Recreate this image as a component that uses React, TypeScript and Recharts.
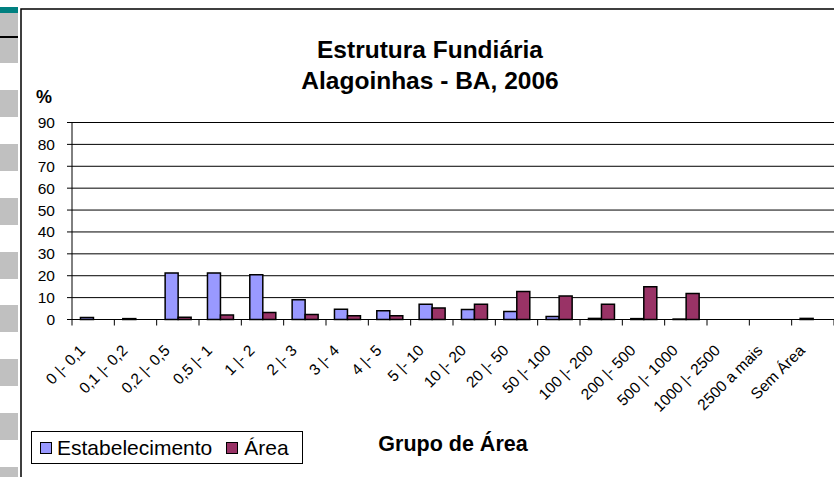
import React from 'react';
import { BarChart, Bar, XAxis, YAxis, CartesianGrid, Legend } from 'recharts';

const FONT = '"Liberation Sans", Arial, Helvetica, sans-serif';

const categories = [
  '0 |- 0,1', '0,1 |- 0,2', '0,2 |- 0,5', '0,5 |- 1', '1 |- 2', '2 |- 3', '3 |- 4', '4 |- 5',
  '5 |- 10', '10 |- 20', '20 |- 50', '50 |- 100', '100 |- 200', '200 |- 500', '500 |- 1000',
  '1000 |- 2500', '2500 a mais', 'Sem Área',
];
const estabelecimento = [0.9, 0.4, 21.3, 21.3, 20.5, 9.0, 4.7, 4.0, 7.0, 4.6, 3.7, 1.4, 0.5, 0.4, 0.2, 0, 0, 0.5];
const area = [0, 0, 1.0, 2.0, 3.2, 2.3, 1.7, 1.7, 5.3, 7.0, 12.8, 10.7, 7.0, 15.0, 11.9, 0, 0, 0];
const yTicks = [0, 10, 20, 30, 40, 50, 60, 70, 80, 90];

const titleLines = ['Estrutura Fundiária', 'Alagoinhas - BA, 2006'];
const yAxisTitle = '%';
const xAxisTitle = 'Grupo de Área';
const seriesNames = ['Estabelecimento', 'Área'];
const seriesColors = ['#9999FF', '#993366'];

const data = categories.map((c, i) => ({ cat: c, estab: estabelecimento[i], area: area[i] }));

const stripBlocks = [90, 143.5, 197.5, 251.5, 305, 358.5, 413, 466.5];

const XTick = (props: any) => {
  const { x, y, payload, index, width } = props;
  const half = payload && payload.offset != null ? payload.offset : width / categories.length / 2;
  const bx = x - half;
  const ax = x - 7;
  const ay = y + 32;
  return (
    <g>
      <line x1={bx} y1={y} x2={bx} y2={y + 6} stroke="#000" strokeWidth={1} />
      {index === categories.length - 1 && (
        <line x1={x + half} y1={y} x2={x + half} y2={y + 6} stroke="#000" strokeWidth={1} />
      )}
      <text
        x={ax}
        y={ay}
        transform={`rotate(-45, ${ax}, ${ay})`}
        textAnchor="end"
        fontSize={15.5}
        fontFamily={FONT}
        fill="#000"
      >
        {payload.value}
      </text>
    </g>
  );
};

const LegendBox = (props: any) => {
  const payload = props.payload || [];
  return (
    <div
      style={{
        width: 272,
        height: 33,
        border: '1px solid #000',
        boxSizing: 'border-box',
        background: '#fff',
        display: 'flex',
        alignItems: 'center',
        fontFamily: FONT,
        fontSize: 21,
        color: '#000',
        lineHeight: '33px',
      }}
    >
      {payload.map((p: any, i: number) => (
        <React.Fragment key={i}>
          <span
            style={{
              display: 'inline-block',
              width: 12,
              height: 12,
              boxSizing: 'border-box',
              background: p.color,
              border: '1.5px solid #000',
              marginLeft: i === 0 ? 8 : 14,
              marginRight: i === 0 ? 5 : 6,
            }}
          />
          <span>{p.value}</span>
        </React.Fragment>
      ))}
    </div>
  );
};

export default function App() {
  return (
    <div
      style={{
        position: 'absolute',
        left: 0,
        top: 0,
        width: 834,
        height: 477,
        overflow: 'hidden',
        background: '#fff',
        fontFamily: FONT,
      }}
    >
      {/* slide strip on the left */}
      <div style={{ position: 'absolute', left: 0, top: 7, width: 18, height: 6, background: '#008080' }} />
      <div style={{ position: 'absolute', left: 0, top: 13, width: 18, height: 50, background: '#C0C0C0' }} />
      <div style={{ position: 'absolute', left: 0, top: 35.5, width: 18, height: 2, background: '#000' }} />
      {stripBlocks.map((t, i) => (
        <div key={i} style={{ position: 'absolute', left: 0, top: t, width: 18, height: 27, background: '#C0C0C0' }} />
      ))}

      <div style={{ position: 'absolute', left: 0, top: 0 }}>
        <BarChart
          width={900}
          height={477}
          data={data}
          margin={{ top: 122.5, right: 66, bottom: 57.5, left: 0 }}
          barCategoryGap="20%"
          barGap={0}
        >
          <CartesianGrid vertical={false} stroke="#000" strokeWidth={1} />
          <XAxis
            dataKey="cat"
            interval={0}
            height={100}
            tickLine={false}
            tickSize={0}
            tickMargin={0}
            axisLine={{ stroke: '#000', strokeWidth: 1 }}
            tick={<XTick />}
          />
          <YAxis
            width={72}
            domain={[0, 90]}
            ticks={yTicks}
            interval={0}
            tickSize={5}
            tickMargin={12}
            axisLine={{ stroke: '#000', strokeWidth: 1 }}
            tickLine={{ stroke: '#000', strokeWidth: 1 }}
            tick={{ fill: '#000', fontSize: 15.5, fontFamily: FONT }}
          />
          <Legend
            layout="horizontal"
            verticalAlign="middle"
            align="center"
            content={<LegendBox />}
            wrapperStyle={{ left: 31, top: 431, width: 272, height: 33 }}
          />
          <Bar dataKey="estab" name={seriesNames[0]} fill={seriesColors[0]} stroke="#000" strokeWidth={1.5} isAnimationActive={false} />
          <Bar dataKey="area" name={seriesNames[1]} fill={seriesColors[1]} stroke="#000" strokeWidth={1.5} isAnimationActive={false} />
        </BarChart>
      </div>

      <svg
        width={834}
        height={477}
        style={{ position: 'absolute', left: 0, top: 0, pointerEvents: 'none' }}
      >
        <rect x={21} y={9} width={900} height={600} fill="none" stroke="#000" strokeWidth={1.5} />
        <text x={430} y={58} textAnchor="middle" fontSize={24.5} fontWeight="bold" fontFamily={FONT} fill="#000">
          {titleLines[0]}
        </text>
        <text x={430} y={89} textAnchor="middle" fontSize={24.5} fontWeight="bold" fontFamily={FONT} fill="#000">
          {titleLines[1]}
        </text>
        <text x={44} y={103} textAnchor="middle" fontSize={18} fontWeight="bold" fontFamily={FONT} fill="#000">
          {yAxisTitle}
        </text>
        <text x={453} y={451} textAnchor="middle" fontSize={21.5} fontWeight="bold" fontFamily={FONT} fill="#000">
          {xAxisTitle}
        </text>
      </svg>
    </div>
  );
}
